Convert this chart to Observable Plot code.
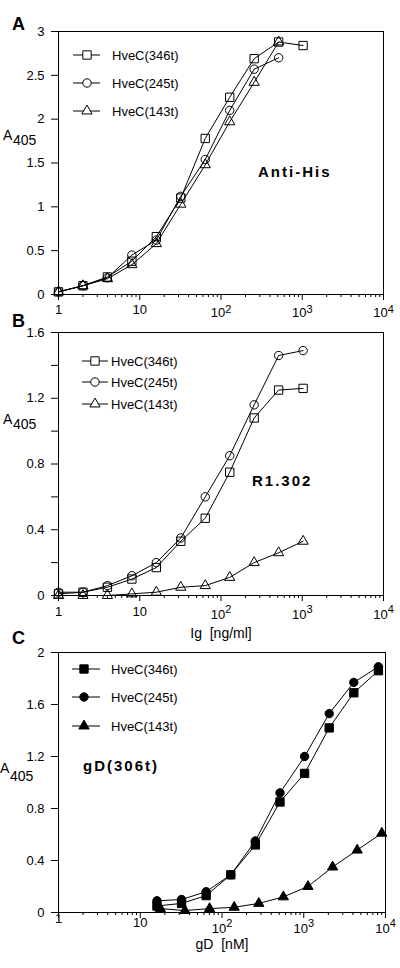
<!DOCTYPE html>
<html><head><meta charset="utf-8">
<script src="https://cdn.jsdelivr.net/npm/d3@7"></script>
<script src="https://cdn.jsdelivr.net/npm/@observablehq/plot@0.6"></script>
<style>
body{margin:0;background:#fff;}
#wrap{position:relative;width:400px;height:968px;overflow:hidden;background:#fff;}
#wrap svg{position:absolute;left:0;overflow:visible;}
</style></head><body><div id="wrap"></div>
<script>
// ---------- data ----------
const seriesNames = ["HveC(346t)", "HveC(245t)", "HveC(143t)"];
// Panel A / B: Ig concentration, ng/ml
const igConc = [1, 2, 4, 8, 16, 32, 64, 128, 256, 512, 1024];
const antiHis346 = [0.03, 0.10, 0.20, 0.38, 0.66, 1.10, 1.78, 2.25, 2.69, 2.88, 2.84];
const antiHis245 = [0.03, 0.10, 0.19, 0.45, 0.62, 1.12, 1.54, 2.10, 2.57, 2.70];
const antiHis143 = [0.03, 0.10, 0.18, 0.34, 0.58, 1.03, 1.48, 1.97, 2.42, 2.88];
const r1302_346 = [0.01, 0.02, 0.05, 0.10, 0.17, 0.33, 0.47, 0.75, 1.08, 1.25, 1.26];
const r1302_245 = [0.02, 0.02, 0.06, 0.12, 0.20, 0.35, 0.60, 0.85, 1.16, 1.46, 1.49];
const r1302_143 = [0.00, 0.00, 0.00, 0.01, 0.02, 0.05, 0.06, 0.11, 0.20, 0.26, 0.33];
// Panel C: gD concentration, nM
const gdConcA = [16, 32, 64, 128, 256, 512, 1024, 2048, 4096, 8192];
const gdConcB = [17.6, 35.2, 70.4, 141, 282, 563, 1126, 2253, 4506, 9011];
const gd346 = [0.05, 0.07, 0.13, 0.29, 0.52, 0.85, 1.07, 1.42, 1.69, 1.86];
const gd245 = [0.09, 0.10, 0.16, 0.29, 0.55, 0.92, 1.20, 1.53, 1.77, 1.89];
const gd143 = [0.03, 0.015, 0.03, 0.04, 0.07, 0.12, 0.20, 0.35, 0.48, 0.61];
// ticks
const xTicks = [1, 10, 100, 1000, 10000];
const xTickBase = ["1", "10", "10", "10", "10"];
const xTickExp = ["", "", "2", "3", "4"];
const yTicksA = [0, 0.5, 1, 1.5, 2, 2.5, 3];
const yLabelsA = ["0", "0.5", "1", "1.5", "2", "2.5", "3"];
const yTicksB = [0, 0.2, 0.4, 0.6, 0.8, 1.0, 1.2, 1.4, 1.6];
const yLabelsB = ["0", "", "0.4", "", "0.8", "", "1.2", "", "1.6"];
const yTicksC = [0, 0.4, 0.8, 1.2, 1.6, 2];
const yLabelsC = ["0", "0.4", "0.8", "1.2", "1.6", "2"];

const minorTicks = [];
for (let e = 0; e < 4; e++) for (let m = 2; m <= 9; m++) minorTicks.push(m * Math.pow(10, e));

const FONT = "'Liberation Sans', Arial, Helvetica, sans-serif";
const wrap = document.getElementById("wrap");

function panel(cfg) {
  const rows = cfg.series.flatMap(s => s.x.map((x, i) => ({name: s.name, x, y: s.y[i]})));
  const yMap = new Map(cfg.yTicks.map((t, i) => [t, cfg.yLabels[i]]));
  const marks = [
    Plot.frame({stroke: "black", strokeWidth: 1}),
    Plot.axisY({ticks: cfg.yTicks, tickSize: 7, tickPadding: 7, tickFormat: d => yMap.get(d) ?? "", label: null, stroke: "black"}),
    Plot.axisX({ticks: xTicks, tickSize: 6, tickFormat: () => "", label: null}),
    Plot.axisX({ticks: minorTicks, tickSize: 3, tickFormat: () => "", label: null})
  ];
  xTicks.forEach((t, i) => {
    if (xTickExp[i] === "") {
      marks.push(Plot.text([t], {x: d => d, text: () => xTickBase[i], frameAnchor: "bottom", lineAnchor: "bottom", dy: cfg.simpleDy[i], fontSize: 13}));
    } else {
      marks.push(Plot.text([t], {x: d => d, text: () => xTickBase[i], frameAnchor: "bottom", lineAnchor: "bottom", dy: cfg.baseDy, dx: -3, fontSize: 13}));
      marks.push(Plot.text([t], {x: d => d, text: () => xTickExp[i], frameAnchor: "bottom", lineAnchor: "bottom", textAnchor: "start", dy: cfg.expDy, dx: 4.3, fontSize: 11}));
    }
  });
  if (cfg.xLabel) marks.push(Plot.text([cfg.xLabel], {text: d => d, frameAnchor: "bottom", lineAnchor: "bottom", dy: cfg.xLabelDy, fontSize: 14}));
  cfg.series.forEach(s => {
    const data = rows.filter(r => r.name === s.name);
    marks.push(Plot.line(data, {x: "x", y: "y", stroke: "black", strokeWidth: 1}));
  });
  cfg.series.forEach(s => {
    const data = rows.filter(r => r.name === s.name);
    marks.push(Plot.dot(data, {x: "x", y: "y", symbol: s.symbol, r: s.r, stroke: "black", strokeWidth: 1, fill: cfg.filled ? "black" : "none"}));
  });
  const svg = Plot.plot({
    width: 400, height: cfg.height,
    marginTop: cfg.mt, marginBottom: cfg.mb, marginLeft: 58, marginRight: cfg.mr,
    x: {type: "log", domain: [1, 10000], label: null},
    y: {domain: cfg.yDomain, label: null},
    style: {background: "transparent", overflow: "visible", fontFamily: FONT, fontSize: "13px", color: "black"},
    marks
  });
  svg.style.top = cfg.top + "px";
  svg.style.position = "absolute";
  const g = d3.select(svg).append("g").attr("font-family", FONT).attr("fill", "black").attr("text-anchor", "start");
  // panel letter
  g.append("text").attr("x", 12).attr("y", cfg.letterY).attr("font-size", 18).attr("font-weight", "bold").text(cfg.letter);
  // y label A405
  g.append("text").attr("x", cfg.aX).attr("y", cfg.aY).attr("font-size", 14).text("A");
  g.append("text").attr("x", cfg.aX + 10).attr("y", cfg.aY + cfg.subDrop).attr("font-size", 14).text("405");
  // annotation
  g.append("text").attr("x", cfg.annX).attr("y", cfg.annY).attr("font-size", 15).attr("font-weight", "bold").attr("letter-spacing", 2).text(cfg.ann);
  // legend
  cfg.series.forEach((s, i) => {
    const y = cfg.legRows[i];
    g.append("line").attr("x1", cfg.legX1).attr("x2", cfg.legX2).attr("y1", y).attr("y2", y).attr("stroke", "black").attr("stroke-width", 1);
    const type = {square: d3.symbolSquare, circle: d3.symbolCircle, triangle: d3.symbolTriangle}[s.symbol];
    g.append("path").attr("d", d3.symbol(type, Math.PI * s.r * s.r)()).attr("transform", `translate(${cfg.legM},${y})`)
      .attr("fill", cfg.filled ? "black" : "white").attr("stroke", "black").attr("stroke-width", 1);
    g.append("text").attr("x", cfg.legT).attr("y", y + 5).attr("font-size", 13).text(s.name);
  });
  wrap.appendChild(svg);
}

panel({
  top: 0, height: 318, mt: 31, mb: 24, mr: 17, yDomain: [0, 3], yTicks: yTicksA, yLabels: yLabelsA,
  simpleDy: [19, 19.5], baseDy: 22.5, expDy: 18.5,
  series: [
    {name: seriesNames[0], x: igConc, y: antiHis346, symbol: "square", r: 4.7},
    {name: seriesNames[1], x: igConc.slice(0, 10), y: antiHis245, symbol: "circle", r: 4.2},
    {name: seriesNames[2], x: igConc.slice(0, 10), y: antiHis143, symbol: "triangle", r: 3.8}
  ],
  letter: "A", letterY: 30, aX: 3, aY: 140, subDrop: 5,
  ann: "Anti-His", annX: 258, annY: 177,
  legRows: [55, 83, 111], legX1: 73, legX2: 100, legM: 87, legT: 112
});

panel({
  top: 318, height: 322, mt: 14, mb: 45, mr: 17, yDomain: [0, 1.6], yTicks: yTicksB, yLabels: yLabelsB,
  simpleDy: [20, 20.5], baseDy: 23.5, expDy: 17,
  xLabel: "Ig  [ng/ml]", xLabelDy: 42,
  series: [
    {name: seriesNames[0], x: igConc, y: r1302_346, symbol: "square", r: 4.7},
    {name: seriesNames[1], x: igConc, y: r1302_245, symbol: "circle", r: 4.2},
    {name: seriesNames[2], x: igConc, y: r1302_143, symbol: "triangle", r: 3.8}
  ],
  letter: "B", letterY: 9, aX: 3, aY: 106, subDrop: 5,
  ann: "R1.302", annX: 252, annY: 168,
  legRows: [43, 64, 86], legX1: 82, legX2: 108, legM: 95, legT: 111
});

panel({
  top: 640, height: 328, mt: 12, mb: 56, mr: 15, yDomain: [0, 2], yTicks: yTicksC, yLabels: yLabelsC,
  simpleDy: [10, 14], baseDy: 20, expDy: 14,
  xLabel: "gD  [nM]", xLabelDy: 36.5, filled: true,
  series: [
    {name: seriesNames[0], x: gdConcA, y: gd346, symbol: "square", r: 4.7},
    {name: seriesNames[1], x: gdConcA, y: gd245, symbol: "circle", r: 4.2},
    {name: seriesNames[2], x: gdConcB, y: gd143, symbol: "triangle", r: 3.8}
  ],
  letter: "C", letterY: 4, aX: 0, aY: 133, subDrop: 8,
  ann: "gD(306t)", annX: 83, annY: 131,
  legRows: [29, 57, 86], legX1: 72, legX2: 100, legM: 84, legT: 111
});
</script></body></html>
